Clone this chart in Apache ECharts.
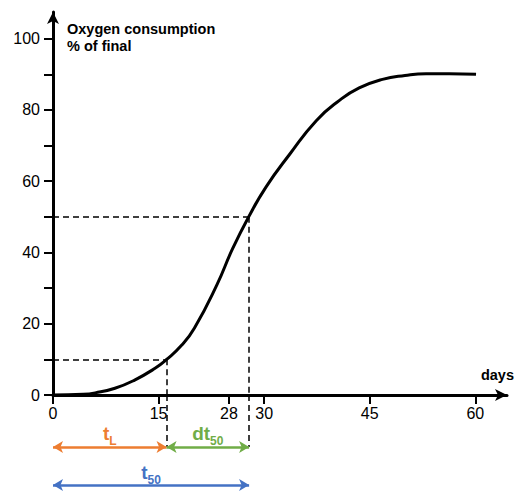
<!DOCTYPE html>
<html>
<head>
<meta charset="utf-8">
<script src="https://cdn.jsdelivr.net/npm/echarts@6/dist/echarts.min.js"></script>
<style>html,body{margin:0;padding:0;background:#fff}#c{width:517px;height:491px}</style>
</head>
<body>
<div id="c"></div>
<script>
// Curve: days vs oxygen consumption (% of final)
const days = [0, 4.3, 6.0, 8.8, 11.6, 14.5, 16.1, 18.3, 20.1, 23.3, 25.5, 27.8, 30.3, 33.6, 37.4, 40.7, 43.5, 46.8, 50.0, 53.0, 56.3, 60.1];
const oxygen = [0, 0.2, 0.6, 1.9, 4.2, 7.5, 9.9, 14.0, 18.8, 31, 41, 50, 58.5, 67.5, 77.0, 82.7, 86.2, 88.6, 89.7, 90.2, 90.2, 90.0];
// X tick positions and their labels (as printed on the schematic)
const xTickValues = [0, 15, 25, 30, 45, 60];
const xTickLabels = ['0', '15', '28', '30', '45', '60'];
const yTickValues = [0, 10, 20, 30, 40, 50, 60, 70, 80, 90, 100];
const yLabelValues = [0, 20, 40, 60, 80, 100];
// Key times and levels
const tL = 16.1;      // lag time (10 %)
const t50 = 27.8;     // time to 50 %
const levelL = 10;
const level50 = 50;

const FONT = 'Liberation Sans, Arial, sans-serif';
const ORANGE = '#ED7D31', GREEN = '#70AD47', BLUE = '#4472C4';
const rowA = -14.6, rowB = -25.3;

function richFor(color) {
  return {
    m: {fontSize: 19, fontWeight: 'bold', color: color, fontFamily: FONT, lineHeight: 20, verticalAlign: 'bottom'},
    s: {fontSize: 12, fontWeight: 'bold', color: color, fontFamily: FONT, lineHeight: 20, verticalAlign: 'bottom', padding: [0, 0, -4, 0]}
  };
}

const dashed = {color: '#000', width: 1.5, type: [6, 4]};

const chart = echarts.init(document.getElementById('c'), null, {renderer: 'svg'});
chart.setOption({
  animation: false,
  grid: [
    {left: 53, right: 9, top: 12, bottom: 96, containLabel: false},
    {left: 53, right: 9, top: 395, bottom: 0, containLabel: false}
  ],
  xAxis: [{
    type: 'value', min: 0, max: 64.5,
    name: 'days', nameLocation: 'end', nameGap: 7,
    nameTextStyle: {fontFamily: FONT, fontSize: 14.5, fontWeight: 'bold', color: '#000', align: 'right', verticalAlign: 'bottom', padding: [0, 0, 13, 0]},
    axisLine: {show: true, symbol: ['none', 'arrow'], symbolSize: [9, 12], lineStyle: {color: '#000', width: 3}},
    axisTick: {show: true, customValues: xTickValues, length: 9, inside: false, lineStyle: {color: '#000', width: 2}},
    axisLabel: {customValues: xTickValues, margin: 10, fontFamily: FONT, fontSize: 16, color: '#000',
      formatter: function (v) { const i = xTickValues.indexOf(v); return i >= 0 ? xTickLabels[i] : ''; }},
    splitLine: {show: false}, z: 3
  }, {
    gridIndex: 1, type: 'value', min: 0, max: 64.5, show: false
  }],
  yAxis: [{
    type: 'value', min: 0, max: 107.5,
    name: 'Oxygen consumption\n% of final', nameLocation: 'end', nameGap: -8,
    nameTextStyle: {fontFamily: FONT, fontSize: 14.5, fontWeight: 'bold', color: '#000', align: 'left', verticalAlign: 'top', lineHeight: 17, padding: [0, 0, 0, 14]},
    axisLine: {show: true, symbol: ['none', 'arrow'], symbolSize: [9, 12], lineStyle: {color: '#000', width: 3}},
    axisTick: {show: true, customValues: yTickValues, length: 9, inside: false, lineStyle: {color: '#000', width: 2}},
    axisLabel: {customValues: yLabelValues, margin: 13, fontFamily: FONT, fontSize: 16, color: '#000'},
    splitLine: {show: false}
  }, {
    gridIndex: 1, type: 'value', min: -27, max: 0, show: false
  }],
  series: [{
    type: 'line',
    data: days.map((d, i) => [d, oxygen[i]]),
    smooth: 0.5,
    showSymbol: false,
    clip: false,
    lineStyle: {color: '#000', width: 3},
    z: 5,
    markLine: {
      silent: true,
      symbol: ['none', 'none'],
      animation: false,
      label: {show: false},
      data: [
        [{coord: [0, levelL], lineStyle: dashed}, {coord: [tL, levelL]}],
        [{coord: [tL, levelL], lineStyle: dashed}, {coord: [tL, 0]}],
        [{coord: [0, level50], lineStyle: dashed}, {coord: [t50, level50]}],
        [{coord: [t50, level50], lineStyle: dashed}, {coord: [t50, 0]}]
      ]
    }
  }, {
    type: 'line',
    xAxisIndex: 1, yAxisIndex: 1,
    data: [],
    markLine: {
      silent: true,
      symbol: ['none', 'none'],
      symbolSize: [9, 10],
      animation: false,
      label: {show: false},
      data: [
        [{coord: [tL, 0], lineStyle: dashed}, {coord: [tL, rowA]}],
        [{coord: [t50, 0], lineStyle: dashed}, {coord: [t50, rowA]}],
        [{coord: [0, rowA], symbol: 'arrow', lineStyle: {color: ORANGE, width: 2.5, type: 'solid'},
          label: {show: true, position: 'middle', formatter: '{m|t}{s|L}', rich: richFor(ORANGE), distance: 4}},
         {coord: [tL, rowA], symbol: 'arrow'}],
        [{coord: [tL, rowA], symbol: 'arrow', lineStyle: {color: GREEN, width: 2.5, type: 'solid'},
          label: {show: true, position: 'middle', formatter: '{m|dt}{s|50}', rich: richFor(GREEN), distance: 4}},
         {coord: [t50, rowA], symbol: 'arrow'}],
        [{coord: [0, rowB], symbol: 'arrow', lineStyle: {color: BLUE, width: 2.5, type: 'solid'},
          label: {show: true, position: 'middle', formatter: '{m|t}{s|50}', rich: richFor(BLUE), distance: 3}},
         {coord: [t50, rowB], symbol: 'arrow'}]
      ]
    }
  }]
});
</script>
</body>
</html>
